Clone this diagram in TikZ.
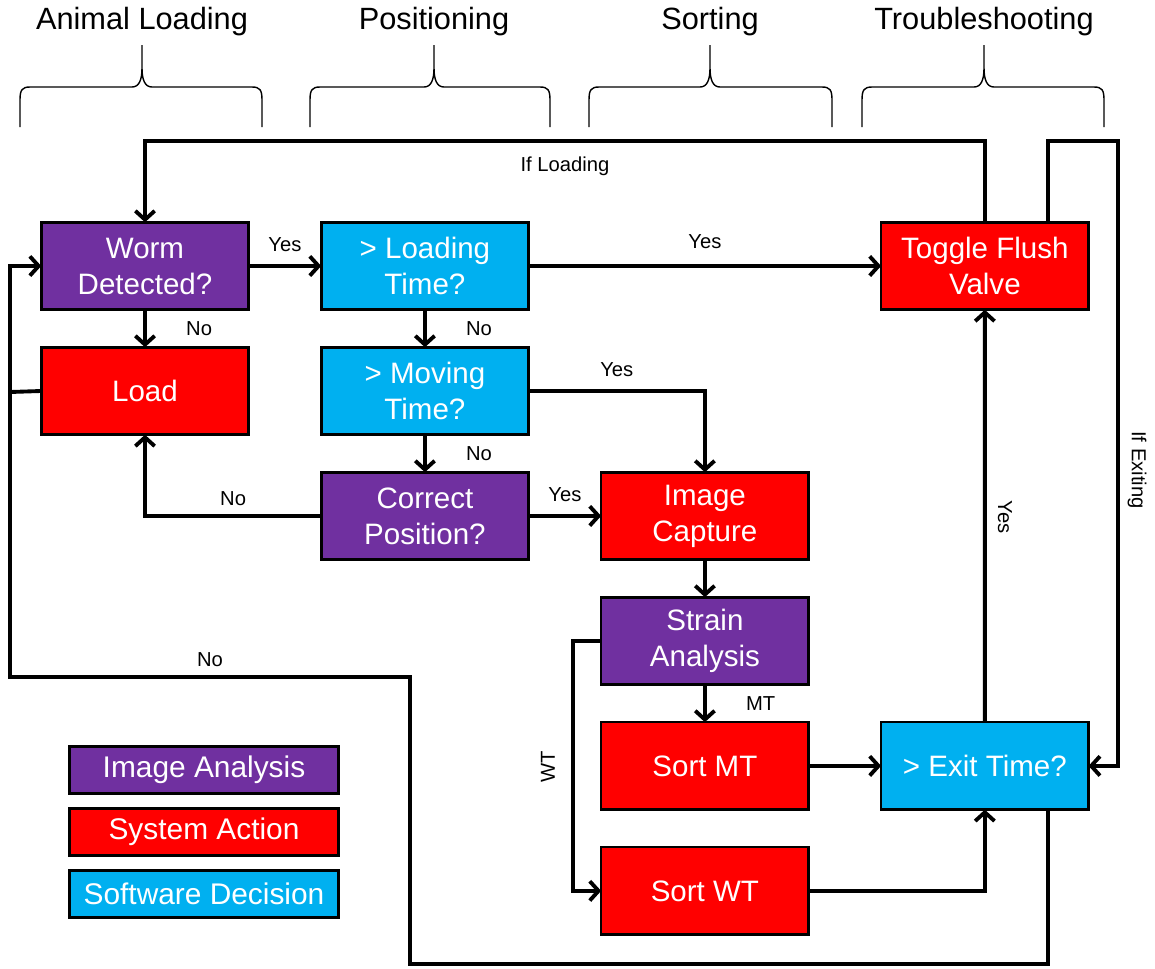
\documentclass[tikz,border=0pt]{standalone}
\usepackage{fontspec}
\setmainfont{Liberation Sans}
\usetikzlibrary{arrows.meta}
\usetikzlibrary{positioning, calc}

\definecolor{imgpurple}{HTML}{7030A0}
\definecolor{sysred}{HTML}{FF0000}
\definecolor{softblue}{HTML}{00B0F0}

\begin{document}
\begin{tikzpicture}[x=0.02cm, y=-0.02cm, node distance=0.75cm and 1.45cm]
    % Define styles
    \tikzstyle{box} = [rectangle, draw, line width=1.5pt, outer sep=0pt, text=white, align=center, minimum width=4.15cm, minimum height=1.75cm, font=\fontsize{16.8}{20.5}\selectfont]
    \tikzstyle{analysis} = [box, fill=imgpurple]
    \tikzstyle{action} = [box, fill=sysred]
    \tikzstyle{decision} = [box, fill=softblue]
    \tikzstyle{legend} = [rectangle, draw, line width=1.5pt, outer sep=0pt, text=white, minimum width=5.39cm, minimum height=0.93cm, font=\fontsize{17}{19}\selectfont]
    \tikzstyle{relation} = [-{Straight Barb[length=5pt,width=11pt]}, line width=2.2pt]
    \tikzstyle{line} = [line width=2.2pt]
    \tikzstyle{lbl} = [inner sep=1pt, font=\fontsize{11.5}{13}\selectfont]
    \tikzstyle{phase} = [font=\fontsize{17.5}{20}\selectfont]
    \tikzstyle{brace} = [line width=0.8pt]

    \useasboundingbox (0,0) rectangle (1155,968);

    % Phases
    \node[phase] (hload) at (142,22) {Animal Loading};
    \node[phase] (hpos) at (434,22) {Positioning};
    \node[phase] (hsort) at (710,22) {Sorting};
    \node[phase] (htrouble) at (984,22) {Troubleshooting};

    \draw[brace] (20,127) -- (20,100) .. controls (20,90) and (22,87) .. (30,87) -- (132,87) .. controls (139,87) and (142,80) .. (142,68) -- (142,45) -- (142,68) .. controls (142,80) and (145,87) .. (152,87) -- (252,87) .. controls (260,87) and (262,90) .. (262,100) -- (262,127);
    \draw[brace] (310,127) -- (310,100) .. controls (310,90) and (312,87) .. (320,87) -- (424,87) .. controls (431,87) and (434,80) .. (434,68) -- (434,45) -- (434,68) .. controls (434,80) and (437,87) .. (444,87) -- (540,87) .. controls (548,87) and (550,90) .. (550,100) -- (550,127);
    \draw[brace] (589,127) -- (589,100) .. controls (589,90) and (591,87) .. (599,87) -- (700,87) .. controls (707,87) and (710,80) .. (710,68) -- (710,45) -- (710,68) .. controls (710,80) and (713,87) .. (720,87) -- (822,87) .. controls (830,87) and (832,90) .. (832,100) -- (832,127);
    \draw[brace] (862,127) -- (862,100) .. controls (862,90) and (864,87) .. (872,87) -- (974,87) .. controls (981,87) and (984,80) .. (984,68) -- (984,45) -- (984,68) .. controls (984,80) and (987,87) .. (994,87) -- (1094,87) .. controls (1102,87) and (1104,90) .. (1104,100) -- (1104,127);

    % Animal loading
    \node[analysis] (worm) at (145,266) {Worm\\Detected?};
    \node[action, below=of worm] (load) {Load};

    % Positioning
    \node[decision, right=of worm] (loadtime) {> Loading\\Time?};
    \node[decision, below=of loadtime] (movetime) {> Moving\\Time?};
    \node[analysis, below=of movetime] (correct) {Correct\\Position?};

    % Sorting
    \node[action, right=of correct] (capture) {Image\\Capture};
    \node[analysis, below=of capture] (strain) {Strain\\Analysis};
    \node[action, below=of strain] (sortmt) {Sort MT};
    \node[action, below=of sortmt] (sortwt) {Sort WT};

    % Troubleshooting
    \node[action, right=7.05cm of loadtime] (toggle) {Toggle Flush\\Valve};
    \node[decision, right=of sortmt] (exit) {> Exit Time?};

    % Legend
    \node[legend, fill=imgpurple] (legana) at (204,770) {Image Analysis};
    \node[legend, fill=sysred, below=0.31cm of legana] (legact) {System Action};
    \node[legend, fill=softblue, below=0.31cm of legact] (legdec) {Software Decision};

    % Relations
    \draw[relation] (worm) -- node[lbl, above=6pt] {Yes} (loadtime);
    \draw[relation] (worm) -- node[lbl, right=0.75cm] {No} (load);
    \draw[relation] (loadtime) -- node[lbl, above=8pt] {Yes} (toggle);
    \draw[relation] (loadtime) -- node[lbl, right=0.75cm] {No} (movetime);
    \draw[relation] (movetime.east) -| node[lbl, pos=0.25, above=6pt] {Yes} (capture.north);
    \draw[relation] (movetime) -- node[lbl, right=0.75cm] {No} (correct);
    \draw[relation] (correct) -- node[lbl, above=6pt] {Yes} (capture);
    \draw[relation] (correct.west) -| node[lbl, pos=0.25, above=4pt] {No} (load.south);
    \draw[relation] (capture) -- (strain);
    \draw[relation] (strain) -- node[lbl, right=0.75cm] {MT} (sortmt);
    \draw[relation] (strain.west) -- ++(-28,0) |- (sortwt.west);
    \node[lbl, rotate=90] (wt) at (548,767) {WT};
    \draw[relation] (sortmt) -- (exit);
    \draw[relation] (sortwt.east) -| (exit.south);
    \draw[relation] (exit) -- (toggle);
    \node[lbl, rotate=-90] (yesexit) at (1005,517) {Yes};

    % Loops back
    \draw[relation] (toggle.north) -- ++(0,-81) -| node[lbl, pos=0.25, below=7pt] {If Loading} (worm.north);
    \draw[relation] ($(toggle.north)+(63,0)$) -- ++(0,-81) -- ++(70,0) |- (exit.east);
    \node[lbl, rotate=-90] (ifexit) at (1137,470) {If Exiting};

    \coordinate (nobend) at (410,677);
    \coordinate (loadjoin) at (10,392);
    \draw[relation] ($(exit.south)+(63,0)$) |- (nobend |- 0,964) -- (nobend) -- node[lbl, above=4pt] {No} ++(-400,0) |- (worm.west);
    \draw[line] (load.west) -- (loadjoin);
\end{tikzpicture}
\end{document}
